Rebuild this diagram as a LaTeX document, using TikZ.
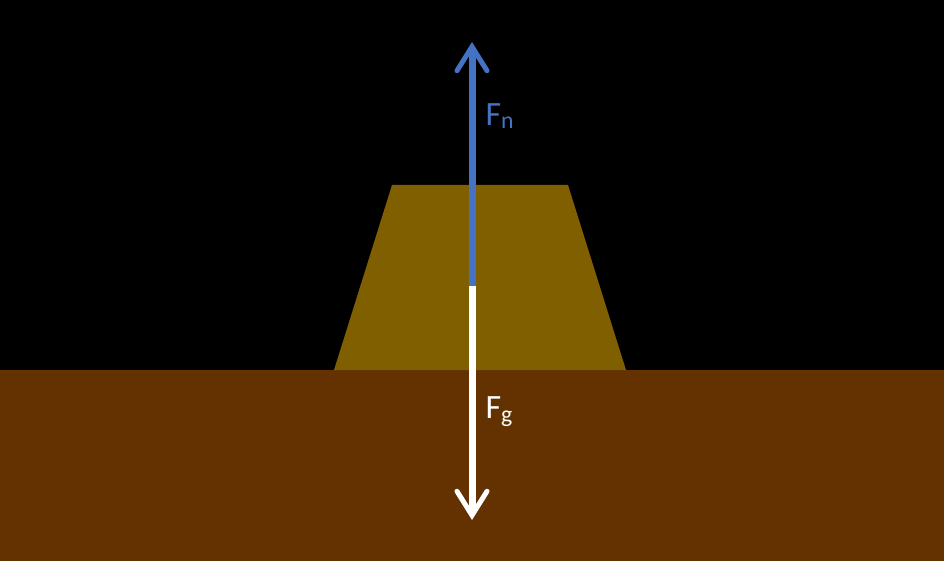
\documentclass[tikz,border=0pt]{standalone}
\usepackage{fontspec}
\setmainfont{Carlito}
\usetikzlibrary{arrows.meta}
\definecolor{ground}{HTML}{633200}
\definecolor{block}{HTML}{7F5F00}
\definecolor{fblue}{HTML}{4472C4}
\tikzset{force/.style={line width=7pt,-{Straight Barb[length=24pt,width=30pt,line cap=round,line width=5pt]}},
lab/.style={anchor=west,font=\fontsize{34}{40}\selectfont}}
\begin{document}
\begin{tikzpicture}[x=1pt,y=-1pt]
\useasboundingbox (0,0) rectangle (944,561);
\fill[black] (0,0) rectangle (944,561);
\fill[ground] (0,370) rectangle (944,561);
\fill[block] (392,185) -- (568,185) -- (626,370) -- (334,370) -- cycle;
\coordinate (c) at (472,286);
\coordinate (up) at (472,42);
\coordinate (dn) at (472,520);
\draw[force,white] (c) -- (dn);
\draw[force,fblue] (c) -- (up);
\node[lab,text=fblue] (fn) at (482,116) {F\textsubscript{n}};
\node[lab,text=white] (fg) at (482,412) {F\textsubscript{g}};
\end{tikzpicture}
\end{document}
